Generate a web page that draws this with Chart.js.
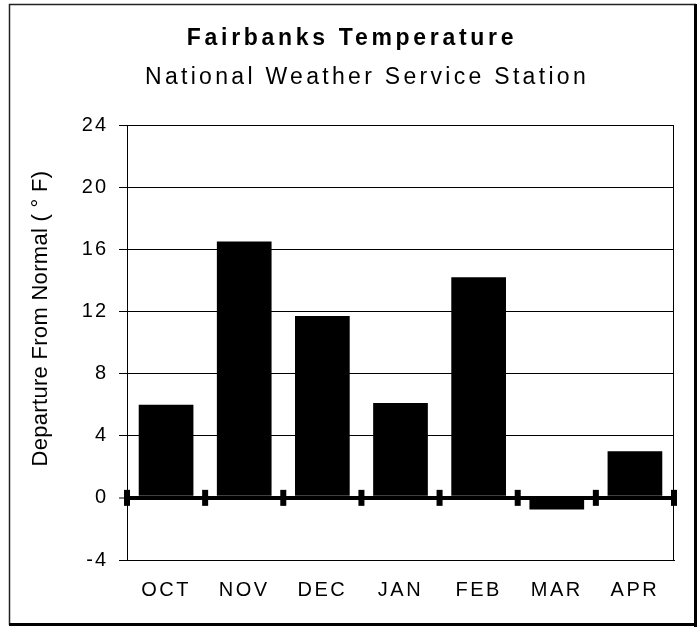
<!DOCTYPE html>
<html lang="en">
<head>
    <meta charset="UTF-8">
    <title>Fairbanks Temperature</title>
    <script src="https://cdn.jsdelivr.net/npm/chart.js"></script>
    <style>
        body { margin: 0; background: #fff; }
    </style>
</head>
<body>
    <canvas id="chart" width="700" height="629"></canvas>

    <script>
        // data
        const months = ['OCT', 'NOV', 'DEC', 'JAN', 'FEB', 'MAR', 'APR'];
        const departures = [6.0, 16.5, 11.7, 6.1, 14.2, -0.75, 3.0];
        const yTicks = [-4, 0, 4, 8, 12, 16, 20, 24];
        const titleText = 'Fairbanks Temperature';
        const subtitleText = 'National Weather Service Station';
        const yAxisTitle = 'Departure From Normal ( ° F)';

        const FONT = 'Arial, "Liberation Sans", sans-serif';

        // old spreadsheet look: text is spaced out, so wrap the draw calls
        function spaced(obj, name, px, dx, dy) {
            if (!obj || obj['_sp_' + name]) return;
            const orig = obj[name];
            obj[name] = function (...args) {
                const ctx = this.ctx;
                ctx.save();
                ctx.letterSpacing = px;
                ctx.translate(dx || 0, dy || 0);
                orig.apply(this, args);
                ctx.restore();
            };
            obj['_sp_' + name] = true;
        }

        const spacingPlugin = {
            id: 'spacing',
            beforeDraw(chart) {
                chart.boxes.forEach(box => {
                    if (box.options && box.options.text === titleText) spaced(box, 'draw', '3.7px', 15, 0);
                    if (box.options && box.options.text === subtitleText) spaced(box, 'draw', '3.3px', 30, 0);
                });
                spaced(chart.scales.x, 'drawLabels', '2.5px', 0, 0);
                spaced(chart.scales.y, 'drawLabels', '2px', 0, 0);
                spaced(chart.scales.y, 'drawTitle', '0.3px', 0, -24);
            }
        };

        const framePlugin = {
            id: 'frame',
            beforeDraw(chart) {
                const ctx = chart.ctx;
                ctx.save();
                ctx.fillStyle = '#fff';
                ctx.fillRect(0, 0, chart.width, chart.height);
                ctx.strokeStyle = '#222';
                ctx.lineWidth = 1.5;
                ctx.beginPath();
                ctx.moveTo(9.5, 625);
                ctx.lineTo(9.5, 4.5);
                ctx.lineTo(696, 4.5);
                ctx.stroke();
                ctx.fillStyle = '#000';
                ctx.fillRect(694, 4, 3, 623);
                ctx.fillRect(9, 623, 688, 3);
                ctx.restore();
            },
            afterDatasetsDraw(chart) {
                const ctx = chart.ctx;
                const x = chart.scales.x;
                const y = chart.scales.y;
                const area = chart.chartArea;
                ctx.save();
                // plot box right side
                ctx.strokeStyle = '#000';
                ctx.lineWidth = 1;
                ctx.beginPath();
                ctx.moveTo(area.right - 0.5, area.top);
                ctx.lineTo(area.right - 0.5, area.bottom);
                ctx.stroke();
                // tick marks on the zero line between categories
                const y0 = y.getPixelForValue(0);
                const step = x.width / months.length;
                ctx.fillStyle = '#000';
                for (let i = 0; i <= months.length; i++) {
                    const px = x.left + i * step;
                    ctx.fillRect(px - 3, y0 - 8, 6, 16);
                }
                ctx.restore();
            }
        };

        const data = {
            labels: months,
            datasets: [{
                data: departures,
                backgroundColor: '#000',
                borderWidth: 0,
                barPercentage: 0.7,
                categoryPercentage: 1.0
            }]
        };

        const config = {
            type: 'bar',
            data: data,
            options: {
                responsive: false,
                animation: false,
                devicePixelRatio: 1,
                layout: { padding: { left: 0, right: 26, top: 0, bottom: 0 } },
                plugins: {
                    legend: { display: false },
                    tooltip: { enabled: false },
                    title: {
                        display: true,
                        text: titleText,
                        color: '#000',
                        font: { family: FONT, size: 23, weight: 'bold', lineHeight: 1.2 },
                        padding: { top: 25.2, bottom: 0 }
                    },
                    subtitle: {
                        display: true,
                        text: subtitleText,
                        color: '#000',
                        font: { family: FONT, size: 23, weight: 'normal', lineHeight: 1.2 },
                        padding: { top: 11.4, bottom: 33.2 }
                    }
                },
                scales: {
                    x: {
                        grid: { display: true, drawOnChartArea: false, drawTicks: false },
                        border: { color: '#000', width: 1 },
                        ticks: {
                            color: '#000',
                            font: { family: FONT, size: 20 },
                            padding: 18,
                            maxRotation: 0,
                            autoSkip: false
                        },
                        afterFit: s => { s.height = 69; }
                    },
                    y: {
                        min: yTicks[0],
                        max: yTicks[yTicks.length - 1],
                        ticks: {
                            stepSize: yTicks[1] - yTicks[0],
                            color: '#000',
                            font: { family: FONT, size: 20 },
                            padding: 11
                        },
                        grid: {
                            color: '#000',
                            tickLength: 8,
                            tickWidth: 1,
                            lineWidth: ctx => (ctx.tick && ctx.tick.value === 0 ? 4 : 1)
                        },
                        border: { color: '#000', width: 1 },
                        title: {
                            display: true,
                            text: yAxisTitle,
                            color: '#000',
                            font: { family: FONT, size: 22 },
                            padding: { top: 28, bottom: 0 }
                        },
                        afterFit: s => { s.width = 127; }
                    }
                }
            },
            plugins: [framePlugin, spacingPlugin]
        };

        var chart = new Chart(document.getElementById('chart'), config);
    </script>
</body>
</html>
